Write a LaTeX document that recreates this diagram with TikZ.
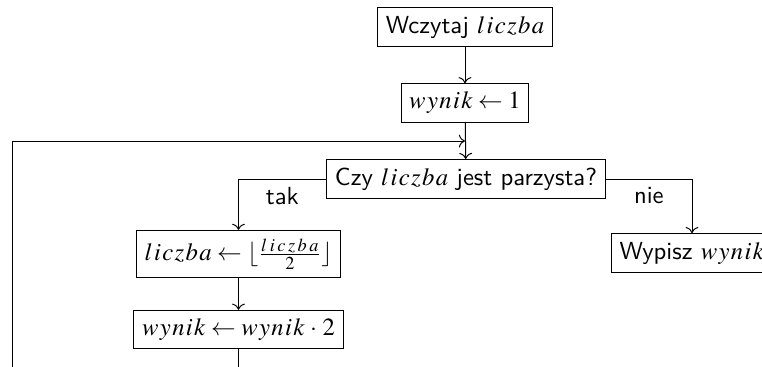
\documentclass[tikz,border=0pt]{standalone}
\usepackage{mathptmx}
\usetikzlibrary{arrows.meta}
% variable names set with a little air between the letters
\newcommand{\vliczba}{l\mkern1mu i\mkern1mu c\mkern1mu z\mkern1mu b\mkern1mu a}
\newcommand{\vwynik}{w\mkern1mu y\mkern1mu n\mkern1mu i\mkern1mu k}
\newcommand{\vliczbaul}{l\mkern2.5mu i\mkern2.5mu c\mkern2.5mu z\mkern2.5mu b\mkern2.5mu a}
\begin{document}
\begin{tikzpicture}[x=0.405pt, y=-0.405pt,
  blok/.style={draw, font=\sffamily, inner sep=3.33pt},
  lacz/.style={->},
  etykieta/.style={font=\sffamily, inner sep=3.33pt}]
  \useasboundingbox (0,0) rectangle (762,367);
  \clip (0,0) rectangle (762,367);

  % blocks of the algorithm
  \node[blok] (wczytaj) at (465,27) {Wczytaj $\vliczba$};
  \node[blok] (init) at (465,103) {$\vwynik \leftarrow 1$};
  \node[blok] (pyt) at (466,179) {Czy $\vliczba$ jest parzysta?};
  \node[blok] (dziel) at (238.5,254) {$\vliczba \leftarrow \lfloor \frac{\vliczbaul}{2} \rfloor$};
  \node[blok] (mnoz) at (238.5,329.5) {$\vwynik \leftarrow \vwynik \mkern1.5mu\cdot\mkern1.5mu 2$};
  \node[blok] (wypisz) at (692,253) {Wypisz $\vwynik$};

  % helper points of the loop
  \coordinate (wej) at (465,141);
  \coordinate (dol) at (12,400);
  \coordinate (gora) at (12,141);

  % connectors
  \draw[lacz] (wczytaj) -- (init);
  \draw[lacz] (init) -- (pyt);
  \draw[lacz] (pyt.west) -| node[etykieta, pos=0.25, below] {tak} (dziel.north);
  \draw[lacz] (pyt.east) -| node[etykieta, pos=0.25, below] {nie} (wypisz.north);
  \draw[lacz] (dziel) -- (mnoz);
  \draw[lacz] (mnoz.south) |- (dol) -- (gora) -- (wej);
\end{tikzpicture}
\end{document}
